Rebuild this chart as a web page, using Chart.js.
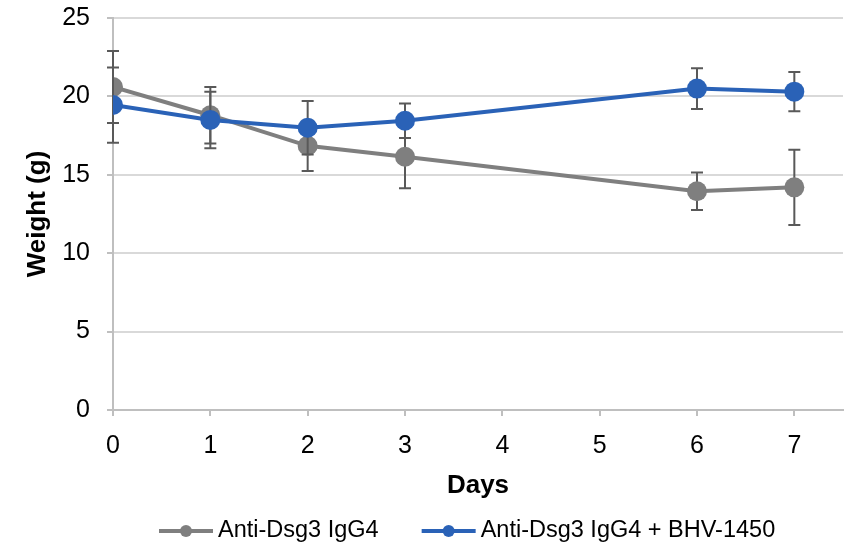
<!DOCTYPE html>
<html>
<head>
<meta charset="utf-8">
<script src="https://cdn.jsdelivr.net/npm/chart.js@4"></script>
<style>
  html, body { margin: 0; padding: 0; background: #fff; }
  #wrap { width: 854px; height: 547px; position: relative; }
</style>
</head>
<body>
<div id="wrap"><canvas id="weightChart"></canvas></div>
<script>
// --- Data ---
const days = [0, 1, 2, 3, 6, 7];
const seriesNames = ['Anti-Dsg3 IgG4', 'Anti-Dsg3 IgG4 + BHV-1450'];
const igg4Weight = [20.6, 18.8, 16.85, 16.15, 13.95, 14.2];
const igg4Err = [2.3, 1.8, 1.6, 2.0, 1.2, 2.4];
const comboWeight = [19.45, 18.5, 18.0, 18.45, 20.5, 20.3];
const comboErr = [2.4, 1.8, 1.7, 1.1, 1.3, 1.25];
const yTicks = [0, 5, 10, 15, 20, 25];

const GRAY = '#7f7f7f';
const BLUE = '#2a62b7';
const FONT = "'Liberation Sans', Arial, sans-serif";

const toPoints = (vals) => vals.map((v, i) => ({ x: days[i], y: v }));

// error bars drawn just before each dataset so later series cover them
const errorBars = {
    id: 'errorBars',
    beforeDatasetDraw(chart, args) {
        const ds = chart.data.datasets[args.index];
        if (!ds.errors) return;
        const { ctx, scales: { x, y } } = chart;
        ctx.save();
        ctx.strokeStyle = '#595959';
        ctx.lineWidth = 2;
        ds.data.forEach((pt, i) => {
            const px = x.getPixelForValue(pt.x);
            const top = y.getPixelForValue(pt.y + ds.errors[i]);
            const bot = y.getPixelForValue(pt.y - ds.errors[i]);
            ctx.beginPath();
            ctx.moveTo(px, top); ctx.lineTo(px, bot);
            ctx.moveTo(px - 6, top); ctx.lineTo(px + 6, top);
            ctx.moveTo(px - 6, bot); ctx.lineTo(px + 6, bot);
            ctx.stroke();
        });
        ctx.restore();
    }
};

// legend with a line + dot marker, like the spreadsheet one
const lineLegend = {
    id: 'lineLegend',
    afterDraw(chart) {
        const ctx = chart.ctx;
        const y = 531;
        let x = 159;
        ctx.save();
        ctx.font = '23.5px ' + FONT;
        ctx.textBaseline = 'middle';
        ctx.textAlign = 'left';
        chart.data.datasets.forEach((ds) => {
            ctx.strokeStyle = ds.borderColor;
            ctx.lineWidth = 4;
            ctx.beginPath();
            ctx.moveTo(x, y); ctx.lineTo(x + 54, y);
            ctx.stroke();
            ctx.fillStyle = ds.borderColor;
            ctx.beginPath();
            ctx.arc(x + 27, y, 6, 0, Math.PI * 2);
            ctx.fill();
            ctx.fillStyle = '#000';
            ctx.fillText(ds.label, x + 59, y);
            x += 59 + ctx.measureText(ds.label).width + 43;
        });
        ctx.restore();
    }
};

const ctx = document.getElementById('weightChart').getContext('2d');

new Chart(ctx, {
    type: 'line',
    data: {
        datasets: [
            {
                label: seriesNames[0],
                data: toPoints(igg4Weight),
                errors: igg4Err,
                borderColor: GRAY,
                backgroundColor: GRAY,
                borderWidth: 4,
                pointRadius: 10,
                pointHoverRadius: 10,
                pointBorderWidth: 0,
                tension: 0,
                order: 1
            },
            {
                label: seriesNames[1],
                data: toPoints(comboWeight),
                errors: comboErr,
                borderColor: BLUE,
                backgroundColor: BLUE,
                borderWidth: 4,
                pointRadius: 10,
                pointHoverRadius: 10,
                pointBorderWidth: 0,
                tension: 0,
                order: 0
            }
        ]
    },
    options: {
        responsive: true,
        maintainAspectRatio: false,
        animation: false,
        layout: {
            padding: { left: 22, right: 11, top: 18, bottom: 46 }
        },
        scales: {
            x: {
                type: 'linear',
                min: 0,
                max: 7.5,
                // fixed axis box so the plot area lines up with the reference
                afterFit: (scale) => {
                    scale.height = 91;
                    scale.paddingLeft = 0;
                    scale.paddingRight = 0;
                },
                ticks: {
                    stepSize: 1,
                    includeBounds: false,
                    padding: 15.5,
                    color: '#000',
                    font: { family: FONT, size: 25 }
                },
                grid: {
                    drawOnChartArea: false,
                    drawTicks: true,
                    tickLength: 6,
                    color: '#bfbfbf',
                    lineWidth: 2
                },
                border: { color: '#bfbfbf', width: 2 },
                title: {
                    display: true,
                    text: 'Days',
                    color: '#000',
                    font: { family: FONT, size: 26, weight: 'bold' },
                    padding: { top: 0, bottom: 0 }
                }
            },
            y: {
                min: yTicks[0],
                max: yTicks[yTicks.length - 1],
                afterBuildTicks: (scale) => { scale.ticks = yTicks.map(v => ({ value: v })); },
                afterFit: (scale) => {
                    scale.width = 91;
                    scale.paddingTop = 0;
                    scale.paddingBottom = 0;
                },
                ticks: {
                    padding: 17,
                    color: '#000',
                    font: { family: FONT, size: 25 }
                },
                grid: {
                    color: '#d9d9d9',
                    lineWidth: 2,
                    tickColor: '#bfbfbf',
                    tickLength: 6
                },
                border: { color: '#bfbfbf', width: 2 },
                title: {
                    display: true,
                    text: 'Weight (g)',
                    color: '#000',
                    font: { family: FONT, size: 26, weight: 'bold' },
                    padding: { top: 0, bottom: 0 }
                }
            }
        },
        plugins: {
            legend: { display: false },
            tooltip: { enabled: false }
        }
    },
    plugins: [errorBars, lineLegend]
});
</script>
</body>
</html>
